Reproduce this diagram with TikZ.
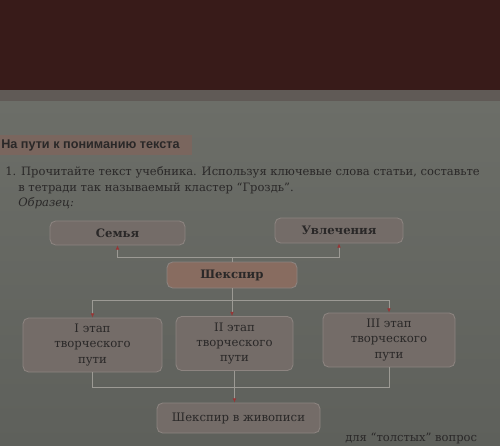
\documentclass[tikz,border=0pt]{standalone}
\usepackage{fontspec}
\setmainfont{DejaVu Serif}
\newfontfamily\headfont{Liberation Sans}
\usetikzlibrary{arrows.meta,positioning}
\definecolor{pagegray}{RGB}{108,110,104}
\definecolor{pagelow}{RGB}{94,96,91}
\definecolor{darkcloth}{RGB}{56,27,25}
\definecolor{bandgray}{RGB}{96,90,86}
\definecolor{headbar}{RGB}{122,102,94}
\definecolor{inkdark}{RGB}{42,40,40}
\definecolor{boxfill}{RGB}{116,108,104}
\definecolor{boxline}{RGB}{140,132,128}
\definecolor{corefill}{RGB}{136,108,96}
\definecolor{linkgray}{RGB}{156,154,148}
\definecolor{tipred}{RGB}{150,55,55}

\begin{document}
\begin{tikzpicture}[
    x=0.25mm, y=-0.25mm,
    topic/.style={draw=boxline, fill=boxfill, rounded corners=4pt, line width=0.6pt, font=\fontsize{8.3}{10}\selectfont\bfseries, text=inkdark, align=center, inner sep=1pt},
    stagebox/.style={topic, font=\fontsize{8.3}{11}\selectfont, minimum height=13.5mm},
    link/.style={linkgray, line width=0.5pt},
    tiparrow/.style={link, -{Latex[length=3pt,width=2.6pt,color=tipred]}},
    bodytext/.style={font=\fontsize{8.2}{10}\selectfont, text=inkdark, anchor=west, inner sep=0pt},
]

% === Page background ===
\clip (0,0) rectangle (500,445);
\useasboundingbox (0,0) rectangle (500,445);
\shade[top color=pagegray, bottom color=pagelow] (0,100) rectangle (500,445);
\fill[darkcloth] (0,0) rectangle (500,90);
\fill[bandgray] (0,90) rectangle (500,101);

% === Heading and task ===
\fill[headbar] (0,135) rectangle (192,155);
\node[font=\headfont\bfseries\fontsize{9}{11}\selectfont, text=inkdark, anchor=west, inner sep=0pt] (head) at (1,145) {На пути к пониманию текста};

\node[bodytext] (line1) at (5,172) {1. Прочитайте текст учебника. Используя ключевые слова статьи, составьте};
\node[bodytext] (line2) at (18,188) {в тетради так называемый кластер “Гроздь”.};
\node[bodytext, font=\fontsize{8.2}{10}\selectfont\itshape] (sample) at (18,203) {Образец:};

% === Cluster ===
\node[topic, minimum width=33.75mm, minimum height=6mm] (family) at (117.5,233) {Семья};
\node[topic, minimum width=32mm, minimum height=6.25mm] (hobby) at (339,230.5) {Увлечения};
\node[topic, fill=corefill, minimum width=32.5mm, minimum height=6.5mm] (shakespeare) at (232,275) {Шекспир};

\node[stagebox, minimum width=34.75mm] (stage1) at (92.5,345) {I этап\\творческого\\пути};
\node[stagebox, minimum width=29.25mm] (stage2) at (234.5,343.5) {II этап\\творческого\\пути};
\node[stagebox, minimum width=33mm] (stage3) at (389,340) {III этап\\творческого\\пути};

\node[topic, font=\fontsize{8.3}{10}\selectfont, minimum width=40.75mm, minimum height=7.5mm] (painting) at (238.5,418) {Шекспир в живописи};

% junction points
\coordinate (jtop) at (232,257);
\coordinate (jmid) at (232,300);
\coordinate (jbot) at (237,387);

% === Connectors ===
\draw[link] (shakespeare.north) -- (jtop);
\draw[tiparrow] (jtop) -| (family.south);
\draw[tiparrow] (jtop) -| (hobby.south);

\draw[link] (shakespeare.south) -- (jmid);
\draw[tiparrow] (jmid) -| (stage1.north);
\draw[tiparrow] (jmid) -- (jmid |- stage2.north);
\draw[tiparrow] (jmid) -| (stage3.north);

\draw[link] (stage1.south) |- (jbot);
\draw[link] (stage3.south) |- (jbot);
\draw[tiparrow] (stage2.south) -- (stage2.south |- painting.north);

% last line at the bottom
\node[bodytext] (nextline) at (345,438) {для “толстых” вопрос};

\end{tikzpicture}
\end{document}
